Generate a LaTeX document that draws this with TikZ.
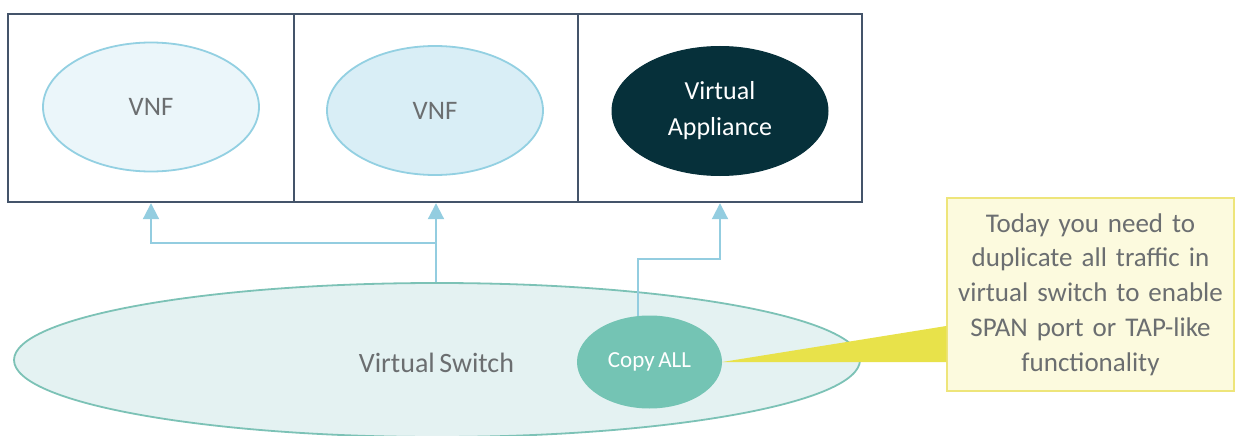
\documentclass[tikz,border=0pt]{standalone}
\usepackage{fontspec}
\setmainfont{Carlito}
\usetikzlibrary{shapes.geometric,arrows.meta,calc}
\definecolor{boxc}{HTML}{44546A}
\definecolor{vnfa}{HTML}{EBF6FA}
\definecolor{vnfb}{HTML}{D9EEF6}
\definecolor{vnfline}{HTML}{93D0E2}
\definecolor{darkapp}{HTML}{06303A}
\definecolor{swfill}{HTML}{E4F2F2}
\definecolor{swline}{HTML}{7CC2B6}
\definecolor{copyfill}{HTML}{74C4B4}
\definecolor{arrc}{HTML}{93CDE0}
\definecolor{wedgec}{HTML}{E8E24A}
\definecolor{calfill}{HTML}{FCFADE}
\definecolor{calline}{HTML}{EEE57A}
\definecolor{txtgray}{HTML}{6B6E70}
\newcommand\tightsp{\spaceskip=0.16em plus 0.05em\relax}
\begin{document}
\begin{tikzpicture}[x=1pt,y=-1pt,
  vmbox/.style={draw=boxc,line width=2.4pt,fill=white,rectangle,minimum height=188pt,inner sep=0pt},
  oval/.style={ellipse,inner sep=0pt,minimum width=216pt,minimum height=129pt},
  vnf/.style={oval,draw=vnfline,line width=1.8pt,text=txtgray,font=\fontsize{26.7}{32}\selectfont},
  conn/.style={draw=arrc,line width=2pt,-{Triangle[width=16pt,length=16pt]}}]
\useasboundingbox (0,0) rectangle (1235,436);
% boxes
\node[vmbox,minimum width=286pt] (b1) at (151,108) {};
\node[vmbox,minimum width=284pt] (b2) at (436,108) {};
\node[vmbox,minimum width=284pt] (b3) at (720,108) {};
% VNFs
\node[vnf,fill=vnfa] (v1) at (151,107) {VNF};
\node[vnf,fill=vnfb] (v2) at (435,110.5) {VNF};
\node[oval,fill=darkapp,draw=darkapp,line width=1pt,text=white,align=center,
  font=\fontsize{26}{36}\selectfont] (va) at (720,111) {Virtual\\Appliance};
% switch
\node[ellipse,draw=swline,line width=1.8pt,fill=swfill,inner sep=0pt,
  minimum width=846pt,minimum height=154pt] (sw) at (437,360) {};
\node[text=txtgray,font=\fontsize{28}{32}\selectfont\tightsp] (swl) at (436.5,363) {Virtual Switch};
\node[ellipse,fill=copyfill,inner sep=0pt,minimum width=145pt,minimum height=93pt,
  text=white,font=\fontsize{23}{28}\selectfont\tightsp] (cp) at (649.5,362) {Copy ALL};
% connectors
\coordinate (j1) at (436,243);
\coordinate (k1) at (720,259);
\draw[conn] (sw.north -| b2.south) -- (b2.south);
\draw[conn] (j1) -| (b1.south);
\draw[conn] (cp.104) |- (k1) -- (b3.south);
% callout
\node[draw=calline,line width=1.5pt,fill=calfill,rectangle,inner sep=0pt,
  minimum width=287pt,minimum height=193pt,text width=287pt,align=center,
  text=txtgray,font=\fontsize{27}{34.7}\selectfont\tightsp] (cb) at (1090.5,294.5)
  {Today you need to\\duplicate all traffic in\\virtual switch to enable\\SPAN port or TAP-like\\functionality};
\fill[wedgec] (cp.east) -- ($(cb.west)+(0,31.5)$) -- ($(cb.west)+(0,67.5)$) -- cycle;
\end{tikzpicture}
\end{document}
